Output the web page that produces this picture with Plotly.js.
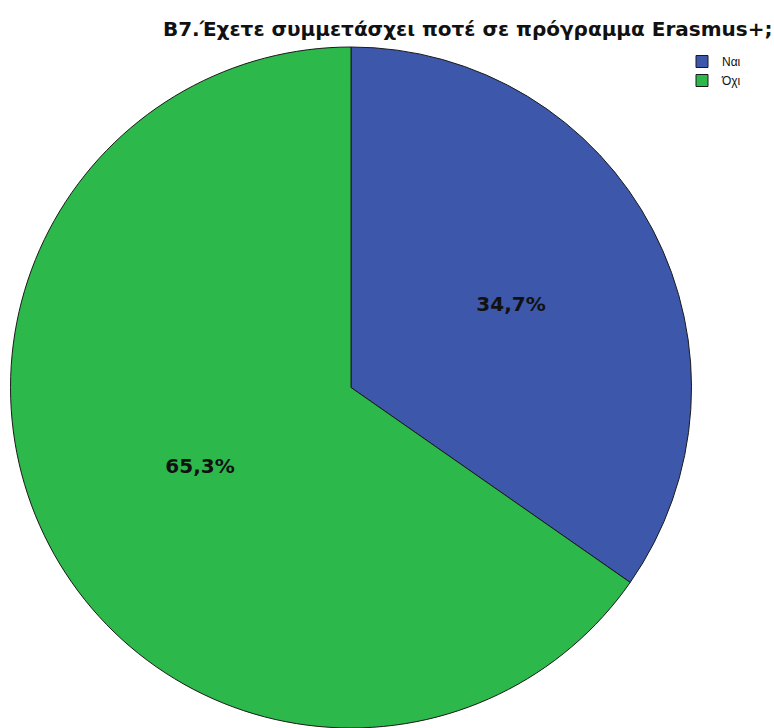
<!DOCTYPE html>
<html>
<head>
<meta charset="utf-8">
<script src="https://cdn.plot.ly/plotly-3.0.1.min.js"></script>
<style>
html,body{margin:0;padding:0;background:#fff;overflow:hidden;}
#chart{width:774px;height:728px;}
</style>
</head>
<body>
<div id="chart"></div>
<script>
const categories = ['Ναι', 'Όχι'];
const values = [34.7, 65.3];
const colors = ['#3d57aa', '#2db84b'];
const titleText = 'B7.Έχετε συμμετάσχει ποτέ σε πρόγραμμα Erasmus+;';

const trace = {
  type: 'pie',
  labels: categories,
  values: values,
  sort: false,
  direction: 'clockwise',
  rotation: 0,
  marker: {colors: colors, line: {color: '#1a1a1a', width: 1}},
  texttemplate: '%{percent:.1%}',
  textposition: 'inside',
  insidetextorientation: 'horizontal',
  textfont: {family: 'DejaVu Sans, sans-serif', size: 20, color: '#111', weight: 'bold'},
  hoverinfo: 'none',
  domain: {x: [0, 0.8927], y: [0, 1]}
};

const layout = {
  width: 774,
  height: 728,
  margin: {l: 10, r: 0, t: 47, b: 0},
  separators: ',.',
  paper_bgcolor: '#ffffff',
  showlegend: true,
  title: {
    text: titleText,
    font: {family: 'DejaVu Sans, sans-serif', size: 20, color: '#111', weight: 'bold'},
    x: 0.998, xref: 'container', xanchor: 'right',
    y: 0.96, yref: 'container', yanchor: 'middle'
  },
  legend: {
    x: 0.8796, xanchor: 'left',
    y: 1.0, yanchor: 'top',
    font: {family: 'Liberation Sans, Arial, sans-serif', size: 12, color: '#111'},
    bgcolor: 'rgba(0,0,0,0)',
    itemwidth: 30,
    tracegroupgap: 0
  }
};

Plotly.newPlot('chart', [trace], layout, {displayModeBar: false, staticPlot: true});
</script>
</body>
</html>
